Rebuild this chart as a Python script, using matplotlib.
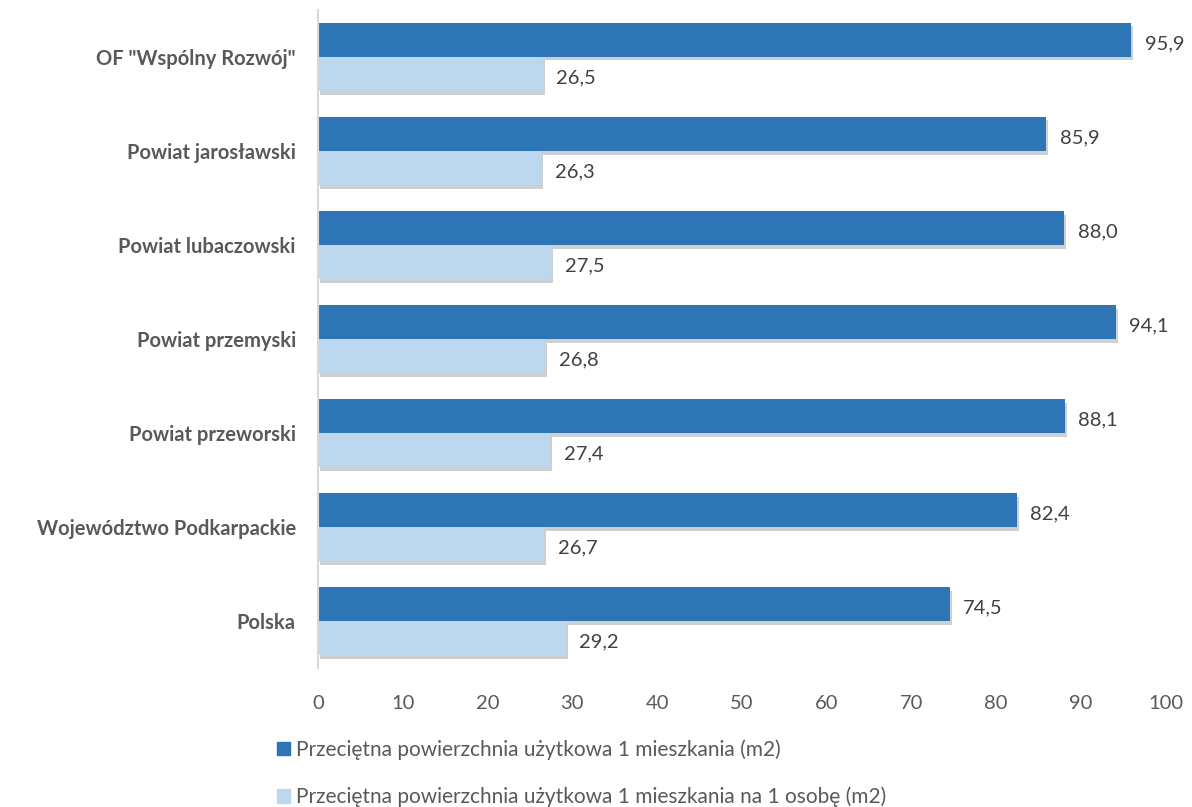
import matplotlib.pyplot as plt
import matplotlib.patheffects as pe
from matplotlib.patches import Patch
import numpy as np

categories = ['OF "Wspólny Rozwój"', 'Powiat jarosławski', 'Powiat lubaczowski',
              'Powiat przemyski', 'Powiat przeworski', 'Województwo Podkarpackie', 'Polska']
per_flat = [95.9, 85.9, 88.0, 94.1, 88.1, 82.4, 74.5]
per_person = [26.5, 26.3, 27.5, 26.8, 27.4, 26.7, 29.2]
series_names = ['Przeciętna powierzchnia użytkowa 1 mieszkania (m2)',
                'Przeciętna powierzchnia użytkowa 1 mieszkania na 1 osobę (m2)']

dark = '#2e75b6'
light = '#bdd7ee'
text_col = '#595959'

plt.rcParams['font.family'] = ['Lato', 'DejaVu Sans']

fig = plt.figure(figsize=(11.92, 8.07), dpi=100)
ax = fig.add_axes([0.2668, 0.172, 0.7112, 0.8156])

y = np.arange(len(categories))
h = 0.362
shadow = [pe.SimplePatchShadow(offset=(1.5, -2.5), alpha=0.25, shadow_rgbFace='#404040'), pe.Normal()]

b1 = ax.barh(y - h / 2, per_flat, height=h, color=dark)
b2 = ax.barh(y + h / 2, per_person, height=h, color=light)
for bars in (b1, b2):
    for p in bars:
        p.set_path_effects(shadow)

# value labels, comma as decimal separator
for bars, vals in ((b1, per_flat), (b2, per_person)):
    for p, v in zip(bars, vals):
        ax.text(v + 1.6, p.get_y() + p.get_height() / 2 + 0.04, f'{v:.1f}'.replace('.', ','),
                va='center', ha='left', fontsize=14.5, color='#404040')

ax.set_xlim(0, 100)
ax.set_ylim(len(categories) - 0.5, -0.5)
ax.set_xticks(np.arange(0, 101, 10))
ax.set_yticks(y)
ax.set_yticklabels(categories, fontweight='bold')
ax.tick_params(axis='x', length=0, labelsize=14.5, labelcolor=text_col, pad=19)
ax.tick_params(axis='y', length=0, labelsize=14.5, labelcolor=text_col, pad=16)
for s in ('top', 'right', 'bottom'):
    ax.spines[s].set_visible(False)
ax.spines['left'].set_color('#d9d9d9')
ax.spines['left'].set_linewidth(1.5)

handles = [Patch(color=dark), Patch(color=light)]
fig.legend(handles=handles, labels=series_names, loc='upper left',
           bbox_to_anchor=(0.232, 0.084), frameon=False, fontsize=15,
           handlelength=0.65, handleheight=0.65, handletextpad=0.3,
           labelspacing=1.3, labelcolor=text_col, borderaxespad=0, borderpad=0)

fig.savefig('out.png', dpi=100)
